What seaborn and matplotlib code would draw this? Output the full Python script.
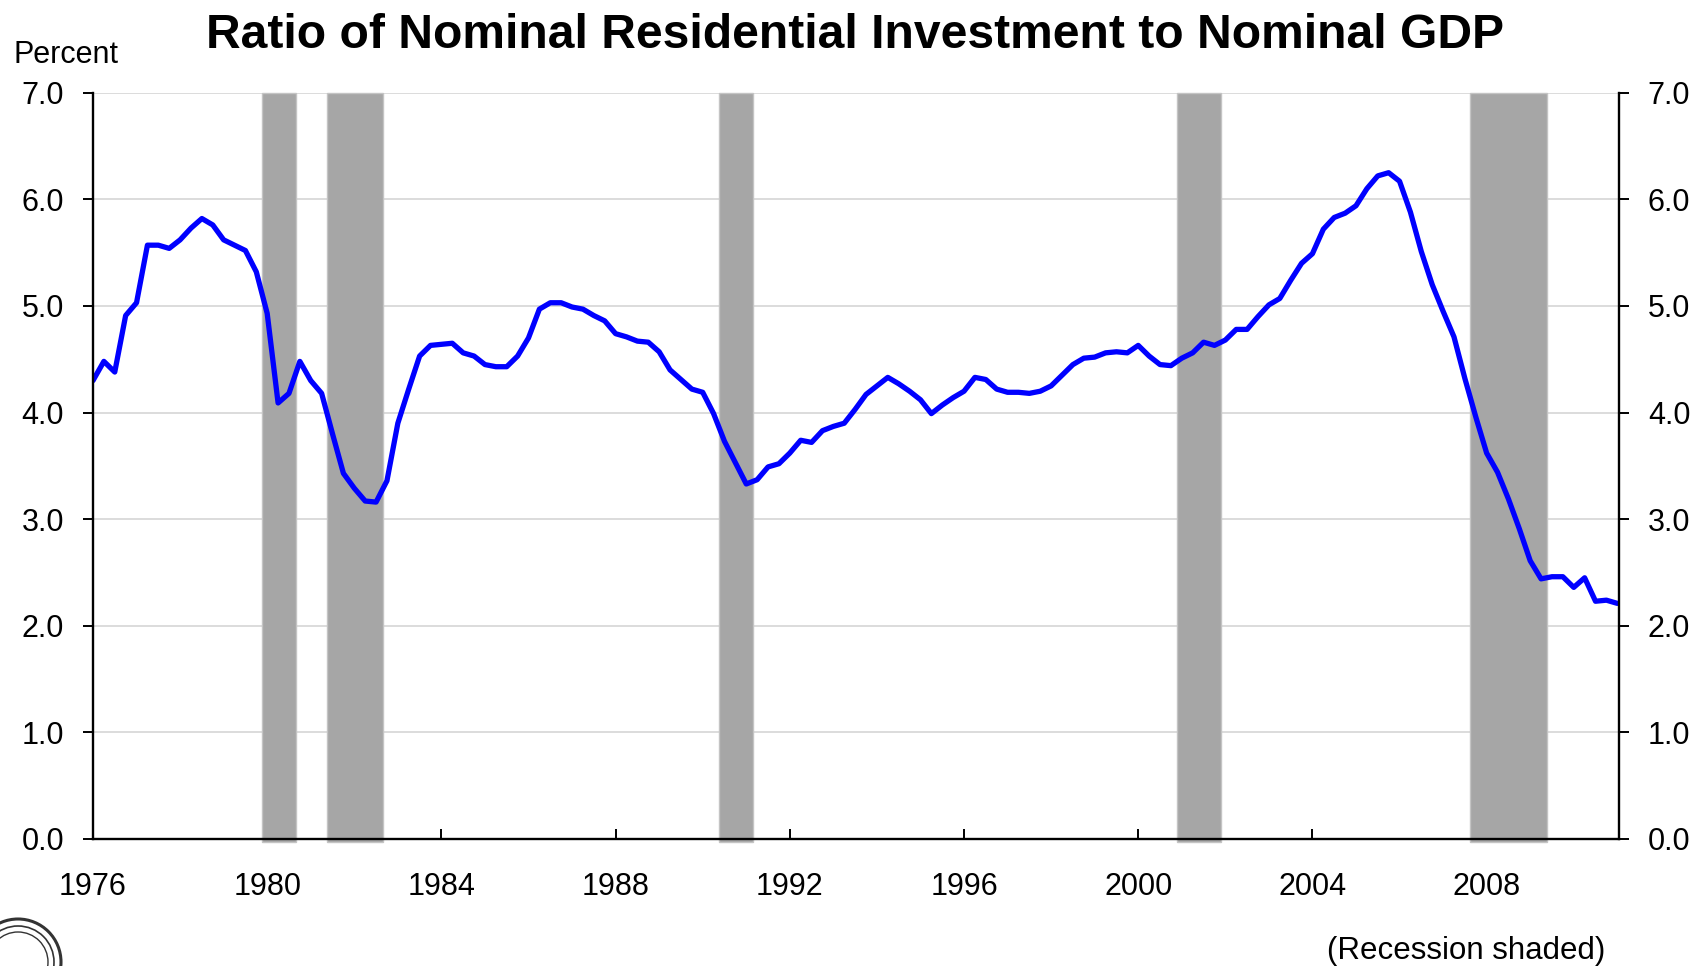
import numpy as np
import pandas as pd
import matplotlib
matplotlib.use("Agg")
import matplotlib.pyplot as plt
from matplotlib.patches import Circle
import seaborn as sns

# Quarterly ratio (percent), 1976Q1 .. 2011Q1
ratio = [
    4.30, 4.48, 4.38, 4.91,   # 1976
    5.03, 5.57, 5.57, 5.54,   # 1977
    5.62, 5.73, 5.82, 5.76,   # 1978
    5.62, 5.57, 5.52, 5.32,   # 1979
    4.93, 4.09, 4.18, 4.48,   # 1980
    4.30, 4.18, 3.80, 3.43,   # 1981
    3.29, 3.17, 3.16, 3.36,   # 1982
    3.90, 4.22, 4.53, 4.63,   # 1983
    4.64, 4.65, 4.56, 4.53,   # 1984
    4.45, 4.43, 4.43, 4.53,   # 1985
    4.70, 4.97, 5.03, 5.03,   # 1986
    4.99, 4.97, 4.91, 4.86,   # 1987
    4.74, 4.71, 4.67, 4.66,   # 1988
    4.57, 4.40, 4.31, 4.22,   # 1989
    4.19, 3.99, 3.73, 3.53,   # 1990
    3.33, 3.37, 3.49, 3.52,   # 1991
    3.62, 3.74, 3.72, 3.83,   # 1992
    3.87, 3.90, 4.03, 4.17,   # 1993
    4.25, 4.33, 4.27, 4.20,   # 1994
    4.12, 3.99, 4.07, 4.14,   # 1995
    4.20, 4.33, 4.31, 4.22,   # 1996
    4.19, 4.19, 4.18, 4.20,   # 1997
    4.25, 4.35, 4.45, 4.51,   # 1998
    4.52, 4.56, 4.57, 4.56,   # 1999
    4.63, 4.53, 4.45, 4.44,   # 2000
    4.51, 4.56, 4.66, 4.63,   # 2001
    4.68, 4.78, 4.78, 4.90,   # 2002
    5.01, 5.07, 5.24, 5.40,   # 2003
    5.49, 5.72, 5.83, 5.87,   # 2004
    5.94, 6.10, 6.22, 6.25,   # 2005
    6.17, 5.88, 5.51, 5.20,   # 2006
    4.95, 4.71, 4.32, 3.96,   # 2007
    3.62, 3.44, 3.19, 2.91,   # 2008
    2.61, 2.44, 2.46, 2.46,   # 2009
    2.36, 2.45, 2.23, 2.24,   # 2010
    2.21,                     # 2011
]
start_year = 1976

# Recession shading (fractional years)
rec_start = [1979.88, 1981.38, 1990.37, 2000.88, 2007.62]
rec_end = [1980.66, 1982.66, 1991.16, 2001.90, 2009.39]

year_ticks = [1976, 1980, 1984, 1988, 1992, 1996, 2000, 2004, 2008]
y_ticks = [0, 1, 2, 3, 4, 5, 6, 7]

title = "Ratio of Nominal Residential Investment to Nominal GDP"

df = pd.DataFrame({
    "date": start_year + np.arange(len(ratio)) / 4.0,
    "ratio": ratio,
})

sns.set_theme(style="white")
plt.rcParams["font.family"] = ["Liberation Sans", "DejaVu Sans"]

fig = plt.figure(figsize=(17.03, 9.66), dpi=100)
ax = fig.add_axes([0.0546, 0.1315, 0.9507 - 0.0546, 0.9040 - 0.1315])

for s, e in zip(rec_start, rec_end):
    ax.axvspan(s, e, ymin=-0.004, ymax=1.0, facecolor="#A6A6A6",
               edgecolor="#C4C4C4", lw=1.0, zorder=1, clip_on=False)

sns.lineplot(data=df, x="date", y="ratio", ax=ax, color="#0000FF",
             linewidth=3.8, zorder=3, estimator=None, sort=False)

ax.set_xlim(1976, 2011.04)
ax.set_ylim(0, 7)
ax.set_xticks(year_ticks)
ax.set_xticklabels([str(y) for y in year_ticks])
ax.set_yticks(y_ticks)
ax.set_yticklabels([f"{v:.1f}" for v in y_ticks])
ax.set_xlabel("")
ax.set_ylabel("")

ax.grid(axis="y", color="#D9D9D9", linewidth=1.3, zorder=0)
ax.grid(axis="x", visible=False)
ax.set_axisbelow(True)

for side in ["left", "right", "bottom"]:
    ax.spines[side].set_visible(True)
    ax.spines[side].set_color("black")
    ax.spines[side].set_linewidth(1.7)
    ax.spines[side].set_zorder(4)
ax.spines["top"].set_visible(False)

ax.tick_params(axis="y", which="both", direction="out", length=7.2, width=1.4,
               color="black", left=True, right=True, labelleft=True,
               labelright=True, labelsize=22, pad=13.5, labelcolor="black")
ax.tick_params(axis="x", which="both", direction="in", length=7.2, width=1.4,
               color="black", bottom=True, top=False, labelsize=22, pad=24,
               labelcolor="black")

fig.text(0.5022, 1 - 47.8 / 966, title, ha="center", va="baseline",
         fontsize=34.6, fontweight="bold", color="black")
fig.text(13 / 1703, 1 - 63 / 966, "Percent", ha="left", va="baseline",
         fontsize=22, color="black")
fig.text(1605 / 1703, 1 - 959 / 966, "(Recession shaded)", ha="right",
         va="baseline", fontsize=22.5, color="black")

# Partial seal in the bottom-left corner (display coords, origin bottom-left)
for r, lw in [(43, 2.2), (36, 1.2), (30, 1.0)]:
    fig.add_artist(Circle((18, 4), r, transform=None, fill=False,
                          edgecolor="#333333", linewidth=lw))

fig.savefig("out.png", dpi=100, facecolor="white")
